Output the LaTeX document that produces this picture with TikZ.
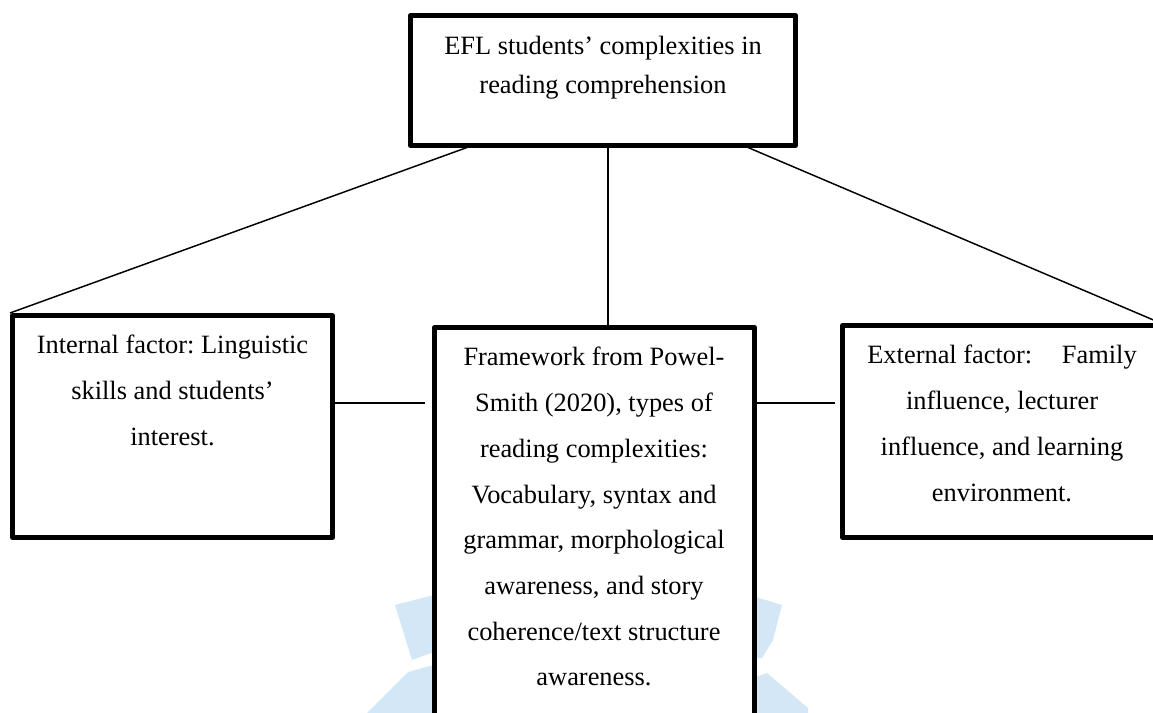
\documentclass[tikz,border=0pt]{standalone}
\usepackage{fontspec}
\setmainfont{Liberation Serif}
\usetikzlibrary{fit}
\frenchspacing
\definecolor{wm}{RGB}{212,231,246}
\tikzset{
  box/.style={draw=black, line width=3.75pt, line join=round, fill=white, inner sep=0pt, rectangle},
  txt/.style={inner sep=0pt, align=center, anchor=north, font=\fontsize{19.8}{34.3}\selectfont},
  conn/.style={draw=black, line width=1.1pt}
}
\begin{document}
\begin{tikzpicture}[x=0.75pt, y=-0.75pt]
\clip (0,0) rectangle (1153,713);
\fill[white] (0,0) rectangle (1153,713);
% watermark
\fill[wm] (395,605) -- (434,595) -- (434,652) -- (412,660) -- cycle;
\fill[wm] (408,672) -- (434,665) -- (434,713) -- (367,713) -- cycle;
\fill[wm] (756,597) -- (782,605) -- (773,640) -- (762,658) -- (756,658) -- cycle;
\fill[wm] (756,677) -- (767,673) -- (808,708) -- (808,713) -- (756,713) -- cycle;
% boxes
\node[box, fit={(410.5,15.5) (795.5,145.5)}] (top) {};
\node[box, fit={(12.5,315.5) (332.5,537.5)}] (left) {};
\node[box, fit={(434.5,327.5) (754.5,760)}] (mid) {};
\node[box, fit={(842.5,325.5) (1158,537.5)}] (right) {};
% anchor points on top box
\coordinate (tl) at (467,147.5);
\coordinate (tc) at (608,147.5);
\coordinate (tr) at (748,147.5);
\coordinate (mc) at (608,325.5);
% connectors
\draw[conn] (tl) -- (left.north west);
\draw[conn] (tc) -- (mc);
\draw[conn] (tr) -- (right.north east);
\draw[conn] (left.east |- 0,403) coordinate (la) -- (425,403) coordinate (lb);
\draw[conn] (mid.east |- 0,403) coordinate (ra) -- (835,403) coordinate (rb);
% texts
\node[txt, font=\fontsize{19.8}{29}\selectfont] (ttop) at (603,36) {EFL students’ complexities in\\reading comprehension};
\node[txt] (tleft) at (172.5,335) {Internal factor: Linguistic\\skills and students’\\interest.};
\node[txt] (tmid) at (594,347) {Framework from Powel-\\Smith (2020), types of\\reading complexities:\\Vocabulary, syntax and\\grammar, morphological\\awareness, and story\\coherence/text structure\\awareness.};
\node[txt] (tright) at (1002,345) {External factor:\hspace*{1.12em}Family\\influence, lecturer\\influence, and learning\\environment.};
\end{tikzpicture}
\end{document}
